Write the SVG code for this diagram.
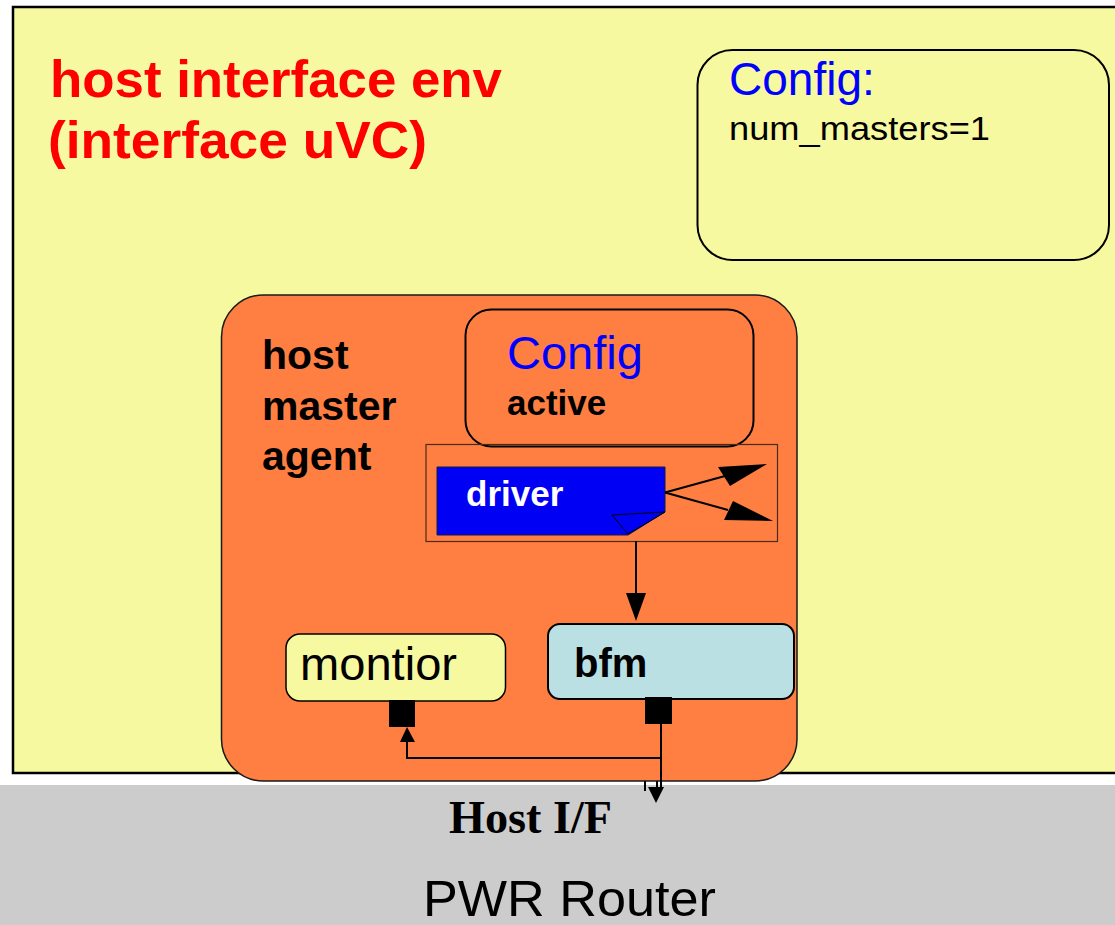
<svg xmlns="http://www.w3.org/2000/svg" width="1115" height="925" viewBox="0 0 1115 925">
<style>
.sans{font-family:"Liberation Sans",Arial,sans-serif}
.b{font-weight:bold}
.ln{stroke:#000;stroke-width:2;fill:none}
.ah{fill:#000;stroke:none}
</style>
<rect x="0" y="0" width="1115" height="925" fill="#ffffff"/>
<g id="router">
<rect x="0" y="785" width="1115" height="140" fill="#cccccc"/>
<text x="449" y="833" font-family="'Liberation Serif','Times New Roman',serif" font-weight="bold" font-size="46" textLength="163" lengthAdjust="spacingAndGlyphs">Host I/F</text>
<text x="423" y="916" class="sans" font-size="50" textLength="293" lengthAdjust="spacingAndGlyphs">PWR Router</text>
</g>
<g id="env">
<rect x="13" y="7" width="1120" height="766" fill="#f6f99f" stroke="#000" stroke-width="2.5"/>
<text class="sans b" font-size="52" fill="#ff0000"><tspan x="50" y="97" textLength="452" lengthAdjust="spacingAndGlyphs">host interface env</tspan><tspan x="48" y="158" textLength="379" lengthAdjust="spacingAndGlyphs">(interface uVC)</tspan></text>
</g>
<g id="env-config">
<rect x="697.5" y="50" width="411.5" height="210" rx="35" ry="35" fill="#f6f99f" stroke="#000" stroke-width="2"/>
<text x="729" y="95" class="sans" font-size="46" fill="#0000ff">Config:</text>
<text x="729" y="140" class="sans" font-size="33" textLength="261" lengthAdjust="spacingAndGlyphs">num_masters=1</text>
</g>
<g id="agent">
<rect x="221.5" y="295" width="575.5" height="486" rx="42" ry="42" fill="#fe7f41" stroke="#1a1a1a" stroke-width="1.5"/>
<text class="sans b" font-size="41"><tspan x="262" y="369">host</tspan><tspan x="262" y="420">master</tspan><tspan x="262" y="470">agent</tspan></text>
</g>
<g id="agent-config">
<rect x="465.5" y="309.5" width="288" height="137" rx="26" ry="26" fill="#fe7f41" stroke="#000" stroke-width="2"/>
<text x="507" y="369" class="sans" font-size="47" fill="#0000ff">Config</text>
<text x="507" y="415" class="sans b" font-size="35">active</text>
</g>
<g id="sequencer">
<rect x="426" y="444.5" width="351.5" height="97" fill="none" stroke="#4a2a1a" stroke-width="1.2"/>
</g>
<g id="driver">
<polygon points="437,467 665,467 665,512 628,535 437,535" fill="#0000f5" stroke="#1a1a40" stroke-width="1"/>
<polygon points="612,515 665,512 628,534" fill="#0000f5" stroke="#000" stroke-width="1"/>
<text x="466" y="506" class="sans b" font-size="35" fill="#ffffff">driver</text>
</g>
<g id="bfm">
<rect x="548" y="624" width="246" height="75" rx="12" ry="12" fill="#bbe0e3" stroke="#000" stroke-width="2"/>
<text x="574" y="677" class="sans b" font-size="40">bfm</text>
<rect x="645" y="697" width="27" height="27" fill="#000"/>
</g>
<g id="monitor">
<rect x="286" y="634" width="219.5" height="67" rx="14" ry="14" fill="#f6f99f" stroke="#000" stroke-width="1.5"/>
<text x="300" y="680" class="sans" font-size="46" textLength="157" lengthAdjust="spacingAndGlyphs">montior</text>
<rect x="389" y="700" width="26" height="27" fill="#000"/>
</g>
<g id="connectors">
<line class="ln" x1="665" y1="492.5" x2="725" y2="476"/>
<polygon class="ah" points="767,464 718,467 730,486"/>
<line class="ln" x1="665" y1="492.5" x2="728" y2="510"/>
<polygon class="ah" points="773,521 733,501 724,520"/>
<line class="ln" x1="636" y1="541" x2="636" y2="594" stroke-width="1.5"/>
<polygon class="ah" points="626,593 646,593 636,621"/>
<line class="ln" x1="661" y1="724" x2="661" y2="790"/>
<polyline class="ln" points="661,758 407,758 407,740"/>
<polygon class="ah" points="400,742 415,742 407,727"/>
<line class="ln" x1="645" y1="781" x2="645" y2="791" stroke-width="1.5"/>
<line class="ln" x1="657" y1="781" x2="657" y2="790" stroke-width="1.5"/>
<polygon class="ah" points="648,787 664,787 656,803"/>
</g>
</svg>
